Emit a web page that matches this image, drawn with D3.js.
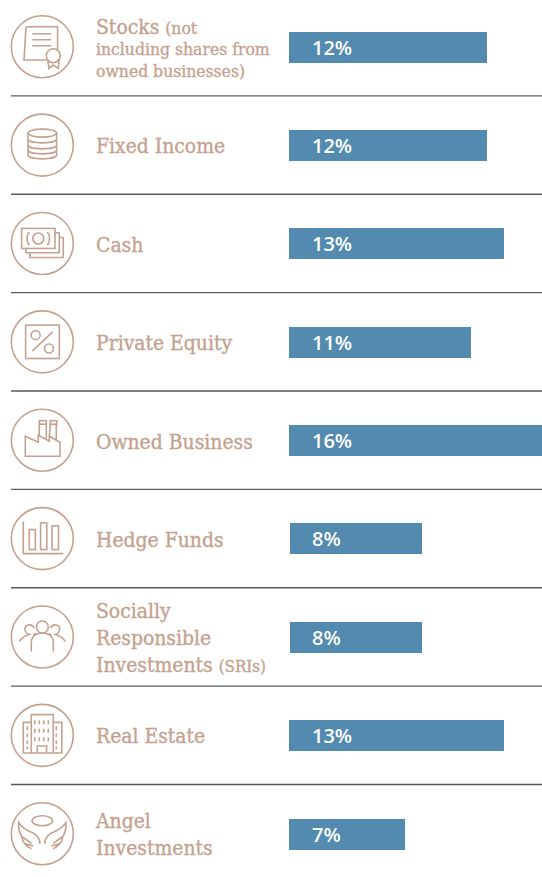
<!DOCTYPE html>
<html><head><meta charset="utf-8">
<script src="https://cdn.jsdelivr.net/npm/d3@7"></script>
<style>html,body{margin:0;padding:0;background:#fff;overflow:hidden}svg{display:block}</style>
</head><body><div id="chart"></div>
<script>
const categories = ["Stocks","Fixed Income","Cash","Private Equity","Owned Business","Hedge Funds","Socially Responsible Investments","Real Estate","Angel Investments"];
const values = [12,12,13,11,16,8,8,13,7];
const tickLabels = ["12%","12%","13%","11%","16%","8%","8%","13%","7%"];
const labelLines = [
  [[["Stocks ","L"],["(not","S"]],[["including shares from","S"]],[["owned businesses)","S"]]],
  [[["Fixed Income","L"]]],
  [[["Cash","L"]]],
  [[["Private Equity","L"]]],
  [[["Owned Business","L"]]],
  [[["Hedge Funds","L"]]],
  [[["Socially","L"]],[["Responsible","L"]],[["Investments ","L"],["(SRIs)","XS"]]],
  [[["Real Estate","L"]]],
  [[["Angel","L"]],[["Investments","L"]]]
];
const W=542,H=877, TAN="#c4a28f", BLUE="#528ab0";
const svg=d3.select("#chart").append("svg").attr("width",W).attr("height",H);
const y=d3.scalePoint().domain(categories).range([47.5,834.5]);
const x=d3.scaleLinear().domain([0,16]).rangeRound([289,553]);
const offsetBars=new Set(["Hedge Funds","Socially Responsible Investments"]);

// separators
const step=y.step();
svg.selectAll("line.sep").data(categories.slice(0,-1)).join("line").attr("class","sep")
  .attr("x1",11).attr("x2",W)
  .attr("y1",d=>y(d)+step/2-.8).attr("y2",d=>y(d)+step/2-.8)
  .attr("stroke","#5a5a5a").attr("stroke-width",1.4);

// bars
svg.selectAll("rect.bar").data(categories).join("rect").attr("class","bar")
  .attr("x",d=>x(0)+(offsetBars.has(d)?1:0))
  .attr("y",d=>Math.floor(y(d)-15.5)).attr("height",31)
  .attr("width",(d,i)=>x(values[i])-x(0)).attr("fill",BLUE);
svg.selectAll("text.val").data(categories).join("text").attr("class","val")
  .attr("x",312).attr("y",d=>Math.floor(y(d)-15.5)+23)
  .attr("fill","#fff").attr("font-family","'Open Sans'").attr("font-weight",600).attr("font-size",20)
  .text((d,i)=>tickLabels[i]);

// labels
const sizes={L:20.9,S:17.4,XS:16.8};
const lineHeights=[[-13.5,7.5,29.8],[7.5],[8],[7.5],[7.5],[7.5],[-19.5,7.5,34.5],[6.5],[-6.5,20.5]];
categories.forEach((c,i)=>{
  labelLines[i].forEach((ln,j)=>{
    const t=svg.append("text").attr("x",96).attr("y",y(c)+lineHeights[i][j])
      .attr("fill",TAN).attr("stroke",TAN).attr("stroke-width",.35)
      .attr("font-family","'DejaVu Serif Condensed','DejaVu Serif',serif");
    ln.forEach(r=>t.append("tspan").attr("font-size",sizes[r[1]]).text(r[0]));
  });
});

// icons (decorative line art in local coordinates around the circle centre)
const icons=[
 g=>{p(g,"M-16.3-20H15.3V2.7M-16.3-20L-18.3 13.3H4.3M-10-13H9M-10-7H9M-10-1H9");
     g.append("circle").attr("cx",11).attr("cy",9).attr("r",7);
     p(g,"M5.5 13.5L6.7 21.7L11 18.3L16 21.7L17 12.7");},
 g=>{g.append("ellipse").attr("cy",-12).attr("rx",14.3).attr("ry",4);
     p(g,"M-14.3-12V10C-14.3 15 14.3 15 14.3 10V-12M-14.3-6C-14.3-1 14.3-1 14.3-6M-14.3 0C-14.3 5 14.3 5 14.3 0M-14.3 5C-14.3 10 14.3 10 14.3 5");},
 g=>{g.append("rect").attr("x",-20.7).attr("y",-15).attr("width",33.4).attr("height",20);
     p(g,"M12.7-10.7H17V9.3H-16.4V5M17-6H21V14H-12.3V9.3");
     g.append("circle").attr("cx",-4).attr("cy",-5).attr("r",5.5);
     p(g,"M-12.5-11C-16-11-16 1-12.5 1M4.5-11C8-11 8 1 4.5 1");},
 g=>{g.append("rect").attr("x",-16.7).attr("y",-16.7).attr("width",33.7).attr("height",33.4);
     g.append("circle").attr("cx",-6.7).attr("cy",-6.7).attr("r",4.5);
     g.append("circle").attr("cx",6.7).attr("cy",6.7).attr("r",4.5);
     p(g,"M-10 9.3L10.3-10");},
 g=>{p(g,"M-17 16H17.7V2L7-4V1L-4-5V2L-17-4ZM-3-5V-16M4-2V-16M7-1L8-16M14 1V-16");
     g.append("rect").attr("x",-3).attr("y",-19.5).attr("width",7).attr("height",3.5);
     g.append("rect").attr("x",8).attr("y",-19.5).attr("width",6.5).attr("height",3.5);},
 g=>{p(g,"M-19-17V15H21");
     g.append("rect").attr("x",-13).attr("y",-9).attr("width",6).attr("height",20);
     g.append("rect").attr("x",-1.7).attr("y",-15.7).attr("width",6.2).attr("height",26.7);
     g.append("rect").attr("x",9.7).attr("y",-12.7).attr("width",6.5).attr("height",23.7);},
 g=>{g.append("circle").attr("cy",-10).attr("r",6);
     p(g,"M-11 14.5V6C-11-2-4-4 0-4S11-2 11 6V14.5");
     p(g,"M-23 4.5C-20 0-17-1-13-2.5C-18-4-19-11-14-12C-11-12.5-9-11-8-9M-9-1.5L-6.5-3.5");
     p(g,"M23 4.5C20 0 17-1 13-2.5C18-4 19-11 14-12C11-12.5 9-11 8-9M9-1.5L6.5-3.5");},
 g=>{p(g,"M-11 17.7V-20.7H11V17.7M-11-13H-19V17.7H19.5V-13H11M-5 17.7V10.7H4.3V17.7");
     p(g,"M-7.5-15V-11M-3-15V-11M1.5-15V-11M6-15V-11M-7.5-6.5V-2.5M-3-6.5V-2.5M1.5-6.5V-2.5M6-6.5V-2.5M-7.5 2V6M-3 2V6M1.5 2V6M6 2V6M-15-9V-5M-15-2V2M-15 5V9M-15 11V14M14-9V-5M14-2V2M14 5V9M14 11V14");},
 g=>{g.append("ellipse").attr("cy",-13).attr("rx",10.3).attr("ry",5);
     p(g,"M-2.5 10C-2 4-8-1-12-2C-17-4-21-7-23.5-11C-24-5-23-1-20.5 3C-20 8-17 12-11 15M-20.5 3C-17 6-13 7-11 10M-17 10C-14 11-11 12-9 12");
     p(g,"M2.5 10C2 4 8-1 12-2C17-4 21-7 23.5-11C24-5 23-1 20.5 3C20 8 17 12 11 15M20.5 3C17 6 13 7 11 10M17 10C14 11 11 12 9 12");}
];
function p(g,d){return g.append("path").attr("d",d);}
categories.forEach((c,i)=>{
  const g=svg.append("g").attr("transform",`translate(42.3,${y(c)-.8})`)
    .attr("fill","none").attr("stroke",TAN).attr("stroke-width",1.6);
  g.append("circle").attr("r",31);
  icons[i](g);
});
</script></body></html>
